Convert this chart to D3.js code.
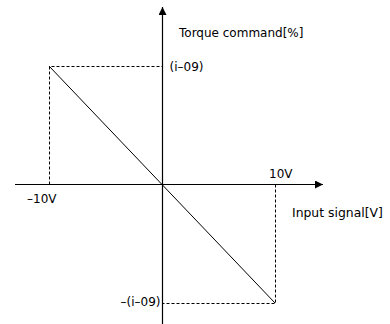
<!DOCTYPE html>
<html>
<head>
<meta charset="utf-8">
<script src="https://cdn.jsdelivr.net/npm/d3@7"></script>
<style>
  body { margin: 0; background: #fff; }
  svg { display: block; }
  text { font-family: "DejaVu Sans", sans-serif; font-size: 12px; fill: #000; }
</style>
</head>
<body>
<svg id="chart" width="390" height="324"></svg>
<script>
// input voltage [V] vs torque command [%]
const inputV = [-10, 10];
const torque = [100, -100];
const xLabels = ['–10V', '10V'];
const yLabels = ['(i–09)', '–(i–09)'];

const width = 390;
const height = 324;
const svg = d3.select('#chart');

const x = d3.scaleLinear().domain([-10, 10]).range([49, 275]);
const y = d3.scaleLinear().domain([-100, 100]).range([303, 66]);

const x0 = Math.round(x(0)) + 0.5;
const y0 = Math.round(y(0)) - 0.5;

// arrow marker
svg.append('defs').append('marker')
  .attr('id', 'arrow')
  .attr('viewBox', '0 0 10 10')
  .attr('refX', 10)
  .attr('refY', 5)
  .attr('markerWidth', 10)
  .attr('markerHeight', 8)
  .attr('markerUnits', 'userSpaceOnUse')
  .attr('orient', 'auto')
  .append('path')
  .attr('d', 'M0,0 L10,5 L0,10 Z')
  .attr('fill', '#000');

// x 轴
svg.append('line')
  .attr('x1', 15).attr('y1', y0)
  .attr('x2', 323).attr('y2', y0)
  .attr('stroke', '#000')
  .attr('stroke-width', 1.2)
  .attr('marker-end', 'url(#arrow)');

// y 轴
svg.append('line')
  .attr('x1', x0).attr('y1', height)
  .attr('x2', x0).attr('y2', 7)
  .attr('stroke', '#000')
  .attr('stroke-width', 1.2)
  .attr('marker-end', 'url(#arrow)');

// 虚线
const pts = inputV.map((v, i) => ({ v, t: torque[i] }));
const guides = svg.append('g')
  .attr('stroke', '#000')
  .attr('stroke-width', 1)
  .attr('stroke-dasharray', '3,2')
  .attr('fill', 'none');
pts.forEach(p => {
  const px = Math.round(x(p.v)) + 0.5;
  const py = Math.round(y(p.t)) + 0.5;
  guides.append('path').attr('d', `M${px},${y0} V${py} H${x0}`);
});

// 特性线
svg.append('path')
  .datum(pts)
  .attr('fill', 'none')
  .attr('stroke', '#000')
  .attr('stroke-width', 1)
  .attr('d', d3.line().x(d => x(d.v)).y(d => y(d.t)));

// labels
svg.append('text').attr('x', 179).attr('y', 37).text('Torque command[%]');
svg.append('text').attr('x', 292).attr('y', 217).style('font-size', '12.4px').text('Input signal[V]');
svg.append('text').attr('x', x(inputV[0]) - 22).attr('y', 203).text(xLabels[0]);
svg.append('text').attr('x', x(inputV[1]) - 6).attr('y', 178).text(xLabels[1]);
svg.append('text').attr('x', x0 + 7).attr('y', y(torque[0]) + 5).text(yLabels[0]);
svg.append('text').attr('x', x0 - 2).attr('y', y(torque[1]) + 3)
  .attr('text-anchor', 'end').text(yLabels[1]);
</script>
</body>
</html>
